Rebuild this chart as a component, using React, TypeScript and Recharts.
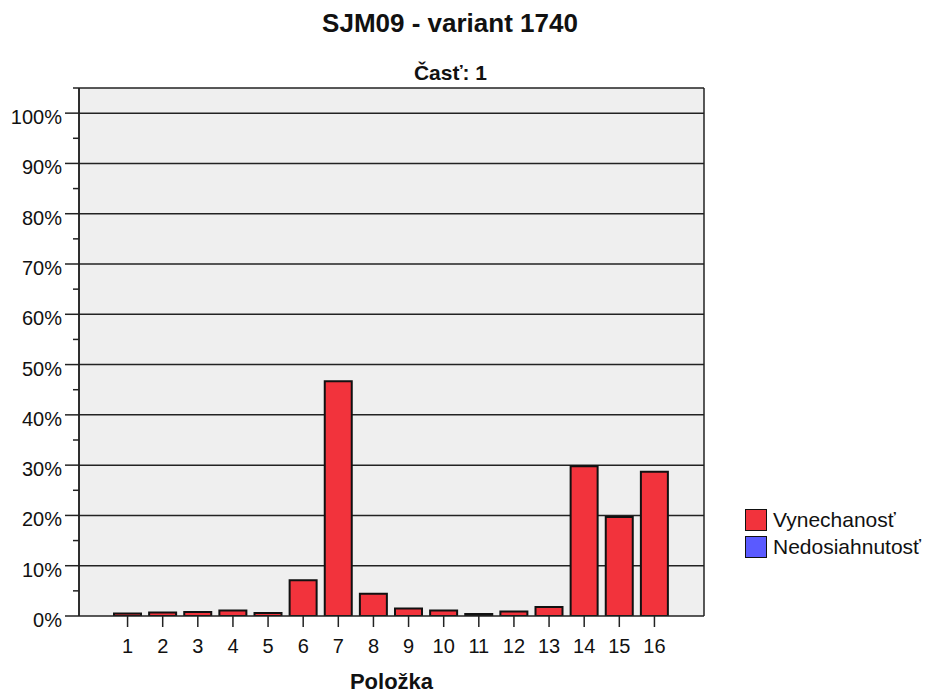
import React from 'react';
import { BarChart, Bar, XAxis, YAxis, CartesianGrid } from 'recharts';

// Položka 1..16
const items = ['1', '2', '3', '4', '5', '6', '7', '8', '9', '10', '11', '12', '13', '14', '15', '16'];
// percent values
const vynechanost = [0.5, 0.7, 0.8, 1.1, 0.6, 7.1, 46.7, 4.4, 1.5, 1.1, 0.4, 0.9, 1.8, 29.8, 19.7, 28.7];
const nedosiahnutost = [0, 0, 0, 0, 0, 0, 0, 0, 0, 0, 0, 0, 0, 0, 0, 0];
const yTicks = [0, 5, 10, 15, 20, 25, 30, 35, 40, 45, 50, 55, 60, 65, 70, 75, 80, 85, 90, 95, 100, 105];
// grid lines every 10%, plus the top edge of the plot at 105%
const gridValues = [10, 20, 30, 40, 50, 60, 70, 80, 90, 100, 105];

const RED = '#f2333c';
const BLUE = '#5a5aff';
const FONT = '"Liberation Sans", Arial, sans-serif';

const chartData = items.map((name, i) => ({
    name,
    vynechanost: vynechanost[i],
    nedosiahnutost: nedosiahnutost[i],
}));

const legendItems = [
    { label: 'Vynechanosť', color: RED },
    { label: 'Nedosiahnutosť', color: BLUE },
];

const YTick = (props: any) => {
    const { x, y, payload } = props;
    const major = payload.value % 10 === 0;
    return (
        <g>
            <line x1={x - (major ? 14 : 6)} x2={x} y1={y} y2={y} stroke="#222" strokeWidth={1.5} />
            {major && (
                <text x={x - 17} y={y + 11} textAnchor="end" fontSize={20} fontFamily={FONT} fill="#111">
                    {payload.value}%
                </text>
            )}
        </g>
    );
};

export default function App() {
    return (
        <div style={{ position: 'absolute', left: 0, top: 0, width: 929, height: 695, background: '#fff' }}>
            <div style={{ position: 'absolute', left: 0, width: 900, top: 8, textAlign: 'center', fontFamily: FONT, fontWeight: 'bold', fontSize: 26, color: '#111' }}>
                SJM09 - variant 1740
            </div>
            <div style={{ position: 'absolute', left: 0, width: 901, top: 61, textAlign: 'center', fontFamily: FONT, fontWeight: 'bold', fontSize: 21, color: '#111' }}>
                Časť: 1
            </div>
            <div style={{ position: 'absolute', left: 79, width: 625, top: 669, textAlign: 'center', fontFamily: FONT, fontWeight: 'bold', fontSize: 22, color: '#111' }}>
                Položka
            </div>
            <div style={{ position: 'absolute', left: 745, top: 506, fontFamily: FONT, fontSize: 21, color: '#111', lineHeight: '22px' }}>
                {legendItems.map((it) => (
                    <div key={it.label} style={{ display: 'flex', alignItems: 'center', height: 27.5 }}>
                        <div style={{ width: 20, height: 20, background: it.color, border: '1.5px solid #111', marginRight: 6 }} />
                        <span>{it.label}</span>
                    </div>
                ))}
            </div>
            <div style={{ position: 'absolute', left: 0, top: 0 }}>
                <BarChart
                    width={929}
                    height={695}
                    data={chartData}
                    margin={{ top: 88, right: 225, bottom: 0, left: 0 }}
                    barSize={27}
                >
                    <CartesianGrid
                        horizontalValues={gridValues}
                        verticalCoordinatesGenerator={({ offset }: any) => [offset.left, offset.left + offset.width]}
                        stroke="#222"
                        strokeWidth={1.5}
                        fill="#efefef"
                        fillOpacity={1}
                    />
                    <XAxis
                        dataKey="name"
                        height={79}
                        padding={{ left: 31, right: 32 }}
                        axisLine={{ stroke: '#222', strokeWidth: 1.5 }}
                        tickLine={{ stroke: '#222', strokeWidth: 1.5 }}
                        tickSize={11}
                        tickMargin={12}
                        tick={{ fontSize: 20, fontFamily: FONT, fill: '#111' }}
                        interval={0}
                    />
                    <YAxis
                        width={79}
                        domain={[0, 105]}
                        ticks={yTicks}
                        interval={0}
                        allowDataOverflow
                        axisLine={{ stroke: '#222', strokeWidth: 1.5 }}
                        tickLine={false}
                        tickSize={0}
                        tickMargin={0}
                        tick={<YTick />}
                    />
                    <Bar dataKey="vynechanost" name="Vynechanosť" stackId="a" fill={RED} stroke="#111" strokeWidth={2} isAnimationActive={false} />
                    <Bar dataKey="nedosiahnutost" name="Nedosiahnutosť" stackId="a" fill={BLUE} stroke="#111" strokeWidth={2} isAnimationActive={false} />
                </BarChart>
            </div>
        </div>
    );
}
